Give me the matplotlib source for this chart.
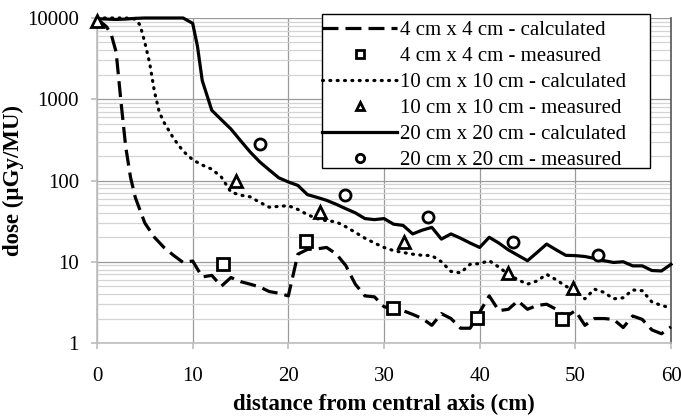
import matplotlib
matplotlib.use("Agg")
import matplotlib.pyplot as plt
from matplotlib.patches import Rectangle
from matplotlib.ticker import FixedLocator, LogLocator, NullFormatter

# ---- data ----
x_4 = [0, 1, 1.5, 2, 2.5, 3, 3.5, 4, 4.5, 5, 6, 7, 8, 9, 10, 11, 12, 13, 14, 15, 16, 17, 18, 19, 20,
       21, 22, 23, 24, 25, 26, 27, 28, 29, 30, 31, 32, 33, 34, 35, 36, 37, 38, 39, 40,
       41, 42, 43, 44, 45, 46, 47, 48, 49, 50, 51, 52, 53, 54, 55, 56, 57, 58, 59, 60]
calc_4 = [9800, 7800, 6200, 3800, 950, 260, 110, 62, 43, 30, 20, 15, 12, 9.8, 10.2, 6.5, 6.8, 5.0, 6.4, 5.7,
          5.3, 4.9, 4.3, 4.1, 3.8, 12.4, 14.2, 14.4, 15, 12.5, 9.0, 5.3, 3.8, 3.7, 2.8, 2.6, 2.5, 2.25,
          2.0, 1.65, 2.3, 2.0, 1.52, 1.52, 2.4, 3.8, 2.5, 2.6, 3.3, 2.6, 2.9, 3.0, 2.6, 2.1, 2.5,
          1.65, 2.0, 2.0, 1.95, 1.55, 2.15, 1.95, 1.45, 1.3, 1.58]

x_10 = [0, 1, 2, 3, 4, 4.5, 5, 5.5, 6, 6.5, 7, 8, 9, 10, 11, 12, 13, 14, 15, 16, 17, 18, 19, 20,
        21, 22, 23, 24, 25, 26, 27, 28, 29, 30, 31, 32, 33, 34, 35, 36, 37, 38, 39, 40,
        41, 42, 43, 44, 45, 46, 47, 48, 49, 50, 51, 52, 53, 54, 55, 56, 57, 58, 59, 60]
calc_10 = [10000, 10000, 10000, 10000, 9700, 8200, 5000, 2800, 1250, 700, 520, 330, 230, 180, 155,
           138, 110, 72, 66, 63, 54, 47, 48, 49, 44, 38, 34, 32, 31, 27, 23, 19.5, 17, 15, 13.7,
           13, 12.4, 12, 11.9, 10, 7.6, 7.3, 9.3, 9.5, 10.3, 8.6, 7.0, 6.0, 5.3, 5.8, 7.0, 6.0,
           5.0, 4.4, 3.5, 4.6, 4.2, 3.5, 3.6, 4.5, 4.4, 3.2, 2.9, 2.7]

x_20 = [0, 1, 2, 3, 4, 5, 6, 7, 8, 9, 10, 10.5, 11, 12, 13, 14, 15, 16, 17, 18, 19, 20,
        21, 22, 23, 24, 25, 26, 27, 28, 29, 30, 31, 32, 33, 34, 35, 36, 37, 38, 39, 40,
        41, 42, 43, 44, 45, 46, 47, 48, 49, 50, 51, 52, 53, 54, 55, 56, 57, 58, 59, 60]
calc_20 = [9800, 9700, 9600, 9700, 9900, 10000, 10000, 10000, 10000, 10000, 8600, 4500, 1700, 730,
           560, 430, 310, 225, 170, 135, 108, 96, 87, 67, 62, 57, 51, 45, 40, 34, 33, 34, 29, 28,
           22, 24.5, 26.5, 19, 22, 19.5, 17, 15, 20, 17, 14, 12, 10.3, 13, 16.5, 14, 12, 11.9,
           11.6, 11, 10.3, 9.8, 10, 8.9, 8.9, 7.8, 7.7, 9.3]

meas_x_4 = [13.2, 21.8, 30.9, 39.7, 48.6]
meas_4 = [9.5, 17.8, 2.68, 2.02, 1.95]
meas_x_10 = [0, 14.5, 23.3, 32.1, 43.0, 49.8]
meas_10 = [9300, 100, 41, 17.4, 7.2, 4.7]
meas_x_20 = [17.0, 25.9, 34.6, 43.5, 52.4]
meas_20 = [278, 67, 36, 17.3, 12.2]

labels = ["4 cm x 4 cm - calculated", "4 cm x 4 cm - measured",
          "10 cm x 10 cm - calculated", "10 cm x 10 cm - measured",
          "20 cm x 20 cm - calculated", "20 cm x 20 cm - measured"]
x_ticks = [0, 10, 20, 30, 40, 50, 60]
y_ticks = [1, 10, 100, 1000, 10000]
y_ticklabels = ["1", "10", "100", "1000", "10000"]
xlabel = "distance from central axis (cm)"
ylabel = "dose (\u00b5Gy/MU)"

plt.rcParams['font.family'] = ['Liberation Serif', 'DejaVu Serif']

W, H = 681, 417
fig = plt.figure(figsize=(W / 100, H / 100), dpi=100)
ax = fig.add_axes([97/W, 1-343/H, (671-97)/W, (343-18)/H])

ax.set_yscale('log')
ax.set_xlim(0, 60)
ax.set_ylim(1, 10000)

h1, = ax.plot(x_4, calc_4, color='black', lw=2.3, ls=(0, (5.0, 2.2)), clip_on=False, zorder=3)
h2, = ax.plot(meas_x_4, meas_4, ls='none', marker='s', ms=8, mfc='white', mec='black', mew=2.0, clip_on=False, zorder=4)
h3, = ax.plot(x_10, calc_10, color='black', lw=2.3, ls=(0, (0.3, 2.0)), dash_capstyle='round', clip_on=False, zorder=3)
h4, = ax.plot(meas_x_10, meas_10, ls='none', marker='^', ms=8.5, mfc='white', mec='black', mew=2.0, clip_on=False, zorder=4)
h5, = ax.plot(x_20, calc_20, color='black', lw=2.3, ls='-', clip_on=False, zorder=3)
h6, = ax.plot(meas_x_20, meas_20, ls='none', marker='o', ms=8, mfc='white', mec='black', mew=2.0, clip_on=False, zorder=4)

# grid
ax.xaxis.set_major_locator(FixedLocator(x_ticks))
ax.yaxis.set_major_locator(FixedLocator(y_ticks))
ax.set_yticklabels(y_ticklabels)
ax.yaxis.set_minor_locator(LogLocator(base=10, subs=range(2, 10)))
ax.yaxis.set_minor_formatter(NullFormatter())
ax.grid(True, which='major', axis='both', color='#9a9a9a', lw=0.9)
ax.grid(True, which='minor', axis='y', color='#d4d4d4', lw=0.9)
ax.set_axisbelow(True)

for s in ['left', 'bottom']:
    ax.spines[s].set_color('#bdbdbd')
    ax.spines[s].set_linewidth(1.2)
ax.spines['top'].set_visible(False)
ax.spines['right'].set_color('#555555')
ax.spines['right'].set_linewidth(1.2)

ax.tick_params(axis='both', which='major', direction='out', length=4, width=1.2, color='#bdbdbd',
               labelsize=15)
ax.tick_params(axis='x', which='major', pad=13)
ax.tick_params(axis='y', which='major', pad=9)
ax.tick_params(axis='y', which='minor', length=0)

ax.set_xlabel(xlabel, fontsize=16.5, fontweight='bold', labelpad=6)
ax.set_ylabel(ylabel, fontsize=16.5, fontweight='bold', labelpad=2)

# legend box (white, black border) and entries
box = Rectangle((322/W, 1-168/H), (650-322)/W, (168-14)/H, transform=fig.transFigure,
                facecolor='white', edgecolor='black', lw=1.0, zorder=5)
fig.add_artist(box)
leg = fig.legend([h1, h2, h3, h4, h5, h6], labels, loc='upper left',
                 bbox_to_anchor=(317/W, 1-15/H), fontsize=15, frameon=False,
                 handlelength=3.6, handletextpad=0.15, labelspacing=0.31,
                 borderpad=0.25, borderaxespad=0, markerscale=0.75)
leg.set_zorder(6)

fig.savefig('out.png', dpi=100)
